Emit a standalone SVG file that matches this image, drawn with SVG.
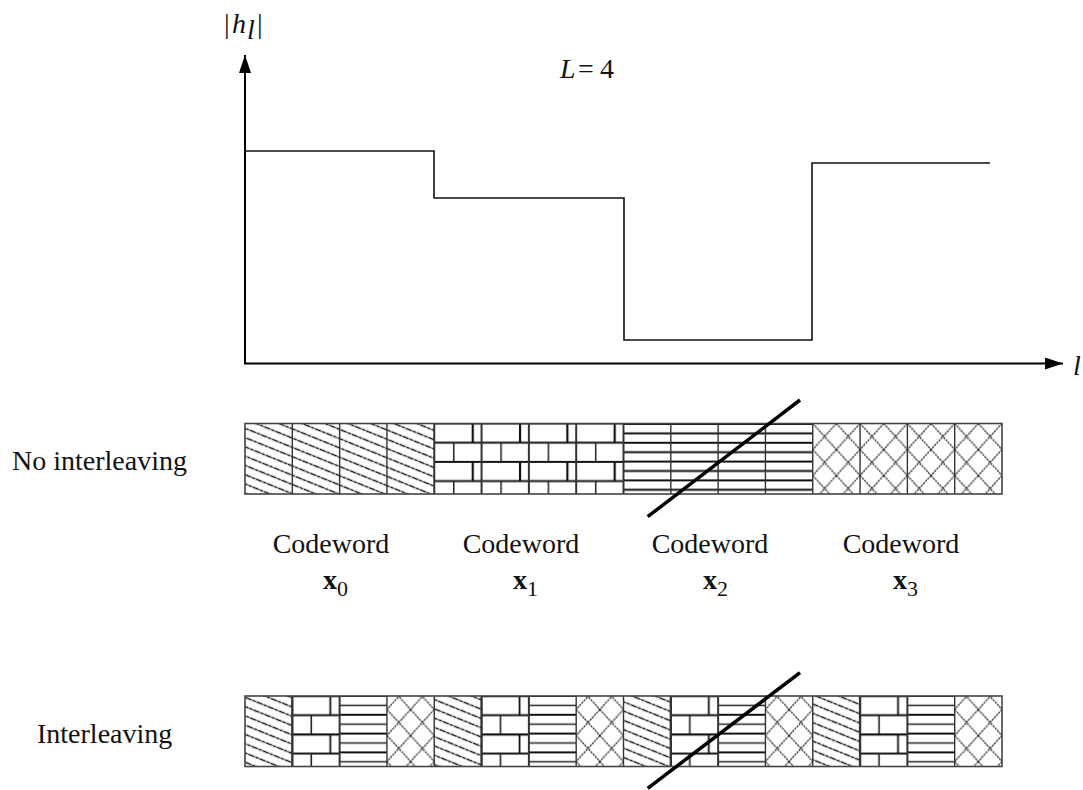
<svg xmlns="http://www.w3.org/2000/svg" width="1083" height="790" viewBox="0 0 1083 790" font-family="'Liberation Serif', 'DejaVu Serif', serif">
<style>
text{font-family:"Liberation Serif","DejaVu Serif",serif;fill:#111;font-size:28px}
.it{font-style:italic}
.bd{font-weight:bold}
.ax{stroke:#000;stroke-width:2;fill:none}
.step{stroke:#111;stroke-width:1.6;fill:none}
.cell{stroke:#333;stroke-width:1.4}
.box{fill:none;stroke:#444;stroke-width:1.6}
.slash{stroke:#000;stroke-width:3.5;stroke-linecap:butt}
.h{fill:url(#hatch)}
.x{fill:url(#cross)}
.b1{fill:url(#brick1)}
.b2{fill:url(#brick2)}
.l1{fill:url(#hl1)}
.l2{fill:url(#hl2)}
</style>
<defs>
<marker id="arr" markerUnits="userSpaceOnUse" markerWidth="18" markerHeight="12" refX="18" refY="6" orient="auto">
<path d="M0,0 L18,6 L0,12 z" fill="#000"/>
</marker>
<pattern id="hatch" patternUnits="userSpaceOnUse" width="12" height="8.6" patternTransform="rotate(22)">
<rect width="12" height="8.6" fill="#fff"/>
<line x1="0" y1="4.3" x2="12" y2="4.3" stroke="#111" stroke-width="1.2" stroke-dasharray="3.5 0.8"/>
</pattern>
<pattern id="cross" patternUnits="userSpaceOnUse" x="245" y="423.5" width="23.656" height="26">
<rect width="23.656" height="26" fill="#fff"/>
<line x1="0" y1="0" x2="23.656" y2="26" stroke="#111" stroke-width="1.2" stroke-dasharray="2.2 0.9"/>
<line x1="23.656" y1="0" x2="0" y2="26" stroke="#111" stroke-width="1.2" stroke-dasharray="2.2 0.9"/>
</pattern>
<pattern id="brick1" patternUnits="userSpaceOnUse" x="245" y="422.5" width="47.3125" height="38.4">
<rect width="47.3125" height="38.4" fill="#fff"/>
<line x1="0" y1="1" x2="47.3125" y2="1" stroke="#111" stroke-width="2"/>
<line x1="0" y1="20.2" x2="47.3125" y2="20.2" stroke="#111" stroke-width="2"/>
<line x1="38.5" y1="1" x2="38.5" y2="20.2" stroke="#111" stroke-width="2.2"/>
<line x1="19.5" y1="20.2" x2="19.5" y2="38.4" stroke="#222" stroke-width="1.5"/>
</pattern>
<pattern id="brick2" patternUnits="userSpaceOnUse" x="245" y="695" width="47.3125" height="38.4">
<rect width="47.3125" height="38.4" fill="#fff"/>
<line x1="0" y1="1" x2="47.3125" y2="1" stroke="#111" stroke-width="2.2"/>
<line x1="0" y1="20.2" x2="47.3125" y2="20.2" stroke="#111" stroke-width="2"/>
<line x1="38" y1="1" x2="38" y2="20.2" stroke="#111" stroke-width="1.8"/>
<line x1="19" y1="20.2" x2="19" y2="38.4" stroke="#222" stroke-width="1.6"/>
</pattern>
<pattern id="hl1" patternUnits="userSpaceOnUse" x="245" y="423" width="47.3125" height="18.8">
<rect width="47.3125" height="18.8" fill="#fff"/>
<line x1="0" y1="1" x2="47.3125" y2="1" stroke="#111" stroke-width="1.8"/>
<line x1="0" y1="10.4" x2="47.3125" y2="10.4" stroke="#111" stroke-width="1.8"/>
</pattern>
<pattern id="hl2" patternUnits="userSpaceOnUse" x="245" y="695" width="47.3125" height="18.8">
<rect width="47.3125" height="18.8" fill="#fff"/>
<line x1="0" y1="1" x2="47.3125" y2="1" stroke="#111" stroke-width="2.2"/>
<line x1="0" y1="10.4" x2="47.3125" y2="10.4" stroke="#222" stroke-width="1.3"/>
</pattern>
</defs>

<g id="axes">
<line class="ax" x1="245" y1="364" x2="245" y2="55" marker-end="url(#arr)"/>
<line class="ax" x1="244" y1="363.5" x2="1063" y2="363.5" marker-end="url(#arr)"/>
<text x="224" y="33" font-size="26">|</text>
<text x="232" y="33" class="it" font-size="26">h</text>
<text x="247" y="39" class="it" font-size="18">l</text>
<text x="257" y="33" font-size="26">|</text>
<text x="1073" y="375" class="it">l</text>
<text x="560" y="78" class="it">L</text>
<text x="578" y="78">=</text>
<text x="600" y="78">4</text>
</g>

<g id="channel">
<path class="step" d="M245,151 H434 V198 H624 V340 H812 V163 H990"/>
</g>

<g id="labels">
<text x="12" y="470">No interleaving</text>
<text x="37" y="743">Interleaving</text>
<g text-anchor="middle">
<text x="331" y="553">Codeword</text>
<text x="521" y="553">Codeword</text>
<text x="710" y="553">Codeword</text>
<text x="901" y="553">Codeword</text>
</g>
<text x="323" y="589" class="bd" font-size="32">x<tspan font-weight="normal" font-size="22" dy="7">0</tspan></text>
<text x="513" y="589" class="bd" font-size="32">x<tspan font-weight="normal" font-size="22" dy="7">1</tspan></text>
<text x="703" y="589" class="bd" font-size="32">x<tspan font-weight="normal" font-size="22" dy="7">2</tspan></text>
<text x="893" y="589" class="bd" font-size="32">x<tspan font-weight="normal" font-size="22" dy="7">3</tspan></text>
</g>

<g id="row-no-interleaving">
<rect class="h" x="245" y="423.5" width="189.25" height="70.5"/>
<rect class="b1" x="434.25" y="423.5" width="189.25" height="70.5"/>
<rect class="l1" x="623.5" y="423.5" width="189.25" height="70.5"/>
<rect class="x" x="812.75" y="423.5" width="189.25" height="70.5"/>
<g class="cell">
<line x1="292.31" y1="423.5" x2="292.31" y2="494"/>
<line x1="339.63" y1="423.5" x2="339.63" y2="494"/>
<line x1="386.94" y1="423.5" x2="386.94" y2="494"/>
<line x1="434.25" y1="423.5" x2="434.25" y2="494" stroke-width="2"/>
<line x1="481.56" y1="423.5" x2="481.56" y2="494" stroke-width="2"/>
<line x1="528.88" y1="423.5" x2="528.88" y2="494" stroke-width="2"/>
<line x1="576.19" y1="423.5" x2="576.19" y2="494" stroke-width="2"/>
<line x1="623.5" y1="423.5" x2="623.5" y2="494" stroke-width="2"/>
<line x1="670.81" y1="423.5" x2="670.81" y2="494"/>
<line x1="718.13" y1="423.5" x2="718.13" y2="494"/>
<line x1="765.44" y1="423.5" x2="765.44" y2="494"/>
<line x1="812.75" y1="423.5" x2="812.75" y2="494"/>
<line x1="860.06" y1="423.5" x2="860.06" y2="494"/>
<line x1="907.38" y1="423.5" x2="907.38" y2="494"/>
<line x1="954.69" y1="423.5" x2="954.69" y2="494"/>
</g>
<rect class="box" x="245" y="423.5" width="757" height="70.5"/>
</g>

<g id="row-interleaving">
<rect class="h" x="245" y="696" width="47.31" height="70.5"/>
<rect class="b2" x="292.31" y="696" width="47.32" height="70.5"/>
<rect class="l2" x="339.63" y="696" width="47.31" height="70.5"/>
<rect class="x" x="386.94" y="696" width="47.31" height="70.5"/>
<rect class="h" x="434.25" y="696" width="47.31" height="70.5"/>
<rect class="b2" x="481.56" y="696" width="47.32" height="70.5"/>
<rect class="l2" x="528.88" y="696" width="47.31" height="70.5"/>
<rect class="x" x="576.19" y="696" width="47.31" height="70.5"/>
<rect class="h" x="623.5" y="696" width="47.31" height="70.5"/>
<rect class="b2" x="670.81" y="696" width="47.32" height="70.5"/>
<rect class="l2" x="718.13" y="696" width="47.31" height="70.5"/>
<rect class="x" x="765.44" y="696" width="47.31" height="70.5"/>
<rect class="h" x="812.75" y="696" width="47.31" height="70.5"/>
<rect class="b2" x="860.06" y="696" width="47.32" height="70.5"/>
<rect class="l2" x="907.38" y="696" width="47.31" height="70.5"/>
<rect class="x" x="954.69" y="696" width="47.31" height="70.5"/>
<g class="cell">
<line x1="292.31" y1="696" x2="292.31" y2="766.5" stroke-width="2.4"/>
<line x1="339.63" y1="696" x2="339.63" y2="766.5" stroke-width="2"/>
<line x1="386.94" y1="696" x2="386.94" y2="766.5"/>
<line x1="434.25" y1="696" x2="434.25" y2="766.5"/>
<line x1="481.56" y1="696" x2="481.56" y2="766.5" stroke-width="2.4"/>
<line x1="528.88" y1="696" x2="528.88" y2="766.5" stroke-width="2"/>
<line x1="576.19" y1="696" x2="576.19" y2="766.5"/>
<line x1="623.5" y1="696" x2="623.5" y2="766.5"/>
<line x1="670.81" y1="696" x2="670.81" y2="766.5" stroke-width="2.4"/>
<line x1="718.13" y1="696" x2="718.13" y2="766.5" stroke-width="2"/>
<line x1="765.44" y1="696" x2="765.44" y2="766.5"/>
<line x1="812.75" y1="696" x2="812.75" y2="766.5"/>
<line x1="860.06" y1="696" x2="860.06" y2="766.5" stroke-width="2.4"/>
<line x1="907.38" y1="696" x2="907.38" y2="766.5" stroke-width="2"/>
<line x1="954.69" y1="696" x2="954.69" y2="766.5"/>
</g>
<rect class="box" x="245" y="696" width="757" height="70.5"/>
</g>

<g id="connectors">
<line class="slash" x1="800" y1="400" x2="647.7" y2="516.7"/>
<line class="slash" x1="800" y1="672.7" x2="647.7" y2="788.3"/>
</g>
</svg>
